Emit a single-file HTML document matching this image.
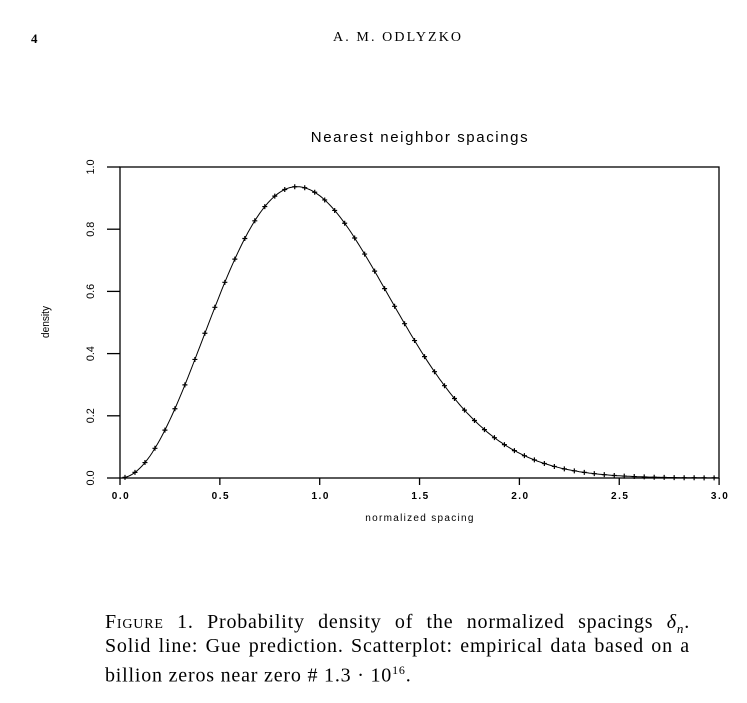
<!DOCTYPE html>
<html><head><style>
body{margin:0;background:#fff;width:747px;height:703px;overflow:hidden;position:relative;font-family:"Liberation Serif",serif;color:#000}
.cap{position:absolute;left:105px;width:585px;font-size:20px;letter-spacing:0.8px;line-height:23.5px;text-align:justify;text-align-last:justify;white-space:nowrap}
</style></head><body>
<div style="position:absolute;left:31px;top:31px;font-size:13px;font-weight:bold">4</div>
<div style="position:absolute;left:333px;top:30px;font-size:14px;letter-spacing:2.1px">A. M. ODLYZKO</div>
<svg id="s" width="747" height="703" style="position:absolute;left:0;top:0" font-family="Liberation Sans, sans-serif">
<text x="420" y="142" text-anchor="middle" font-size="15" letter-spacing="1.6">Nearest neighbor spacings</text>
<rect x="120" y="167" width="599" height="311" fill="none" stroke="#000" stroke-width="1.3"/>
<text x="420" y="521" text-anchor="middle" font-size="10" letter-spacing="1.3">normalized spacing</text>
<text transform="translate(49,322) rotate(-90)" text-anchor="middle" font-size="11" textLength="32" lengthAdjust="spacingAndGlyphs">density</text>
</svg>
<div class="cap" style="top:611px"><span style="font-variant:small-caps">Figure</span> 1. Probability density of the normalized spacings <i>δ<sub style="font-size:13px">n</sub></i>.</div>
<div class="cap" style="top:635px">Solid line: Gue prediction. Scatterplot: empirical data based on a</div>
<div class="cap" style="top:659px;text-align-last:left">billion zeros near zero # 1.3 · 10<sup style="font-size:12px">16</sup>.</div>
<script>
var s=document.getElementById('s'),h='';
function X(v){return 120+v*199.7}function Y(v){return 478-v*311}
function p(x){return 32/(Math.PI*Math.PI)*x*x*Math.exp(-4*x*x/Math.PI)}
for(var i=0;i<=6;i++){var x=X(i*0.5);h+='<line x1="'+x+'" y1="478" x2="'+x+'" y2="485" stroke="#000" stroke-width="1.3"/>';
h+='<text x="'+(x+1)+'" y="499" text-anchor="middle" font-size="10" letter-spacing="1.5" font-weight="bold">'+(i*0.5).toFixed(1)+'</text>';}
for(var i=0;i<=5;i++){var y=Y(i*0.2);h+='<line x1="107" y1="'+y+'" x2="120" y2="'+y+'" stroke="#000" stroke-width="1.3"/>';
h+='<text transform="translate(94,'+y+') rotate(-90)" text-anchor="middle" font-size="11" textLength="15" lengthAdjust="spacingAndGlyphs">'+(i*0.2).toFixed(1)+'</text>';}
var d='';for(var t=0;t<=3.0001;t+=0.01){d+=(t?'L':'M')+X(t).toFixed(1)+','+Y(p(t)).toFixed(1);}
h+='<path d="'+d+'" fill="none" stroke="#000" stroke-width="1"/>';
for(var t=0.025;t<3;t+=0.05){var x=X(t),y=Y(p(t));h+='<path d="M'+(x-2.5)+','+y+'h5M'+x+','+(y-2.5)+'v5" stroke="#000" stroke-width="1.2"/>';}
s.insertAdjacentHTML('beforeend',h);
</script>
</body></html>
